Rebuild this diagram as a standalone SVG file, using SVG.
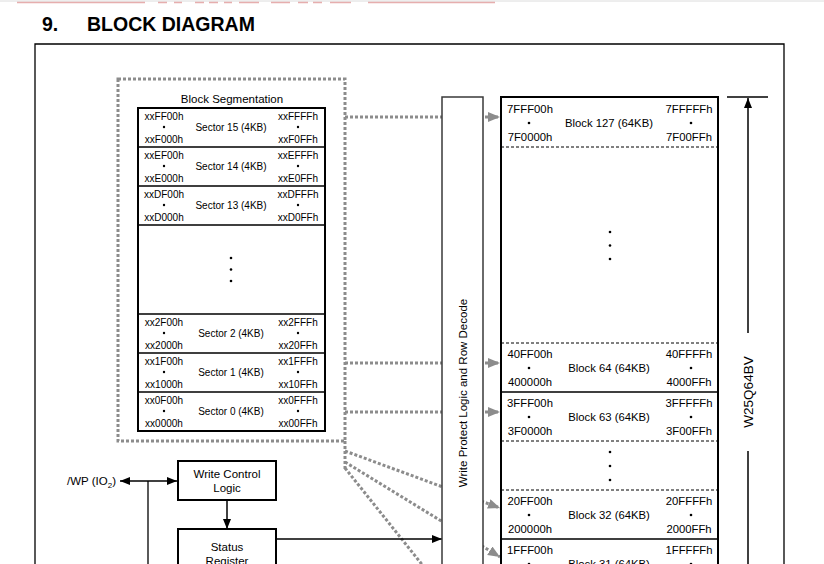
<svg xmlns="http://www.w3.org/2000/svg" width="824" height="564" viewBox="0 0 824 564">
<defs>
<style>
text{font-family:"Liberation Sans",Arial,sans-serif;fill:#000}
.t10{font-size:10px}
.t11{font-size:11.3px}
.t12{font-size:11.5px}
.m{text-anchor:middle}
.dot{stroke:#8c8c8c;stroke-width:3;stroke-dasharray:3 2;fill:none}
.ln{stroke:#000;fill:none}
.dash{stroke:#000;stroke-width:1;stroke-dasharray:3 2;fill:none}
</style>
<marker id="ga" markerUnits="userSpaceOnUse" markerWidth="14" markerHeight="12" refX="12" refY="5" orient="auto">
<path d="M0,0 L12,5 L0,10 Z" fill="#8c8c8c"/>
</marker>
<marker id="ba" markerUnits="userSpaceOnUse" markerWidth="12" markerHeight="10" refX="10" refY="4" orient="auto">
<path d="M0,0 L10,4 L0,8 Z" fill="#000"/>
</marker>
<marker id="bs" markerUnits="userSpaceOnUse" markerWidth="12" markerHeight="10" refX="0" refY="4" orient="auto">
<path d="M10,0 L0,4 L10,8 Z" fill="#000"/>
</marker>
</defs>
<rect width="824" height="564" fill="#fff"/>
<g id="header">
<line x1="0" y1="1" x2="824" y2="1" stroke="#dcdcdc" stroke-width="1"/>
<path d="M17,2.5H145M158,2.5H167M174,2.5H182M195,2.5H204M209,2.5H218M224,2.5H232M239,2.5H259M271,2.5H290M298,2.5H308M313,2.5H322M330,2.5H351M368,2.5H495" stroke="#d77a7a" stroke-width="1.5" opacity="0.6"/>
<text x="42" y="31" style="font-size:19.5px;font-weight:bold">9.</text>
<text x="87" y="31" style="font-size:19.5px;font-weight:bold">BLOCK DIAGRAM</text>
</g>
<g id="frame">
<path d="M35,566V44H784V566" stroke="#000" stroke-width="1.3" fill="none"/>
</g>
<g id="connectors">
<line class="dot" x1="345" y1="441" x2="345" y2="470"/>
<line class="dot" x1="345" y1="117" x2="500" y2="117" marker-end="url(#ga)"/>
<line class="dot" x1="345" y1="363" x2="500" y2="363" marker-end="url(#ga)"/>
<line class="dot" x1="345" y1="412" x2="500" y2="412" marker-end="url(#ga)"/>
<line class="dot" x1="345" y1="451" x2="500" y2="508" marker-end="url(#ga)"/>
<line class="dot" x1="345" y1="462" x2="500" y2="557" marker-end="url(#ga)"/>
<line class="dot" x1="345" y1="468" x2="428" y2="572"/>
<line class="ln" stroke-width="1.3" x1="120" y1="481" x2="177" y2="481" marker-start="url(#bs)" marker-end="url(#ba)"/>
<line class="ln" stroke-width="1.3" x1="148" y1="481" x2="148" y2="566"/>
<line class="ln" stroke-width="1.5" x1="227" y1="500" x2="227" y2="529" marker-end="url(#ba)"/>
<line class="ln" stroke-width="1.5" x1="276" y1="539" x2="442" y2="539" marker-end="url(#ba)"/>
</g>
<g id="block-segmentation">
<rect x="118" y="79" width="227" height="362" class="dot"/>
<text class="t12 m" x="232" y="103">Block Segmentation</text>
<rect x="138" y="108" width="187" height="323" fill="#fff" stroke="#000" stroke-width="2"/>
<path d="M138,147H325M138,186H325M138,225H325M138,314H325M138,353H325M138,392H325" stroke="#000" stroke-width="1.5"/>
<g class="t10">
<text class="m" x="164" y="120">xxFF00h</text><text class="m" x="164" y="142.5">xxF000h</text>
<text class="m" x="298" y="120">xxFFFFh</text><text class="m" x="298" y="142.5">xxF0FFh</text>
<text class="m" x="231" y="130.5">Sector 15 (4KB)</text>
<text class="m" x="164" y="159">xxEF00h</text><text class="m" x="164" y="181.5">xxE000h</text>
<text class="m" x="298" y="159">xxEFFFh</text><text class="m" x="298" y="181.5">xxE0FFh</text>
<text class="m" x="231" y="169.5">Sector 14 (4KB)</text>
<text class="m" x="164" y="198">xxDF00h</text><text class="m" x="164" y="220.5">xxD000h</text>
<text class="m" x="298" y="198">xxDFFFh</text><text class="m" x="298" y="220.5">xxD0FFh</text>
<text class="m" x="231" y="208.5">Sector 13 (4KB)</text>
<text class="m" x="164" y="326">xx2F00h</text><text class="m" x="164" y="348.5">xx2000h</text>
<text class="m" x="298" y="326">xx2FFFh</text><text class="m" x="298" y="348.5">xx20FFh</text>
<text class="m" x="231" y="336.5">Sector 2 (4KB)</text>
<text class="m" x="164" y="365">xx1F00h</text><text class="m" x="164" y="387.5">xx1000h</text>
<text class="m" x="298" y="365">xx1FFFh</text><text class="m" x="298" y="387.5">xx10FFh</text>
<text class="m" x="231" y="375.5">Sector 1 (4KB)</text>
<text class="m" x="164" y="404">xx0F00h</text><text class="m" x="164" y="426.5">xx0000h</text>
<text class="m" x="298" y="404">xx0FFFh</text><text class="m" x="298" y="426.5">xx00FFh</text>
<text class="m" x="231" y="414.5">Sector 0 (4KB)</text>
</g>
<g fill="#000">
<circle cx="164" cy="127" r="1.2"/><circle cx="298" cy="127" r="1.2"/>
<circle cx="164" cy="166" r="1.2"/><circle cx="298" cy="166" r="1.2"/>
<circle cx="164" cy="205" r="1.2"/><circle cx="298" cy="205" r="1.2"/>
<circle cx="164" cy="333" r="1.2"/><circle cx="298" cy="333" r="1.2"/>
<circle cx="164" cy="372" r="1.2"/><circle cx="298" cy="372" r="1.2"/>
<circle cx="164" cy="411" r="1.2"/><circle cx="298" cy="411" r="1.2"/>
<circle cx="231" cy="258" r="1.3"/><circle cx="231" cy="269.5" r="1.3"/><circle cx="231" cy="281" r="1.3"/>
</g>
</g>
<g id="write-protect-logic">
<path d="M442,570V97H483V570" fill="#fff" stroke="#3a3a3a" stroke-width="1.5"/>
<text class="t12 m" transform="translate(467,393) rotate(-90)">Write Protect Logic and Row Decode</text>
</g>
<g id="memory-array">
<path d="M501,570V97H718V570" fill="#fff" stroke="#000" stroke-width="2"/>
<path class="dash" d="M501,147H718M501,343H718M501,441H718M501,490H718"/>
<path d="M501,392H718M501,539H718" stroke="#000" stroke-width="1.5"/>
<g class="t11">
<text class="m" x="530" y="113">7FFF00h</text><text class="m" x="530" y="141">7F0000h</text>
<text class="m" x="689" y="113">7FFFFFh</text><text class="m" x="689" y="141">7F00FFh</text>
<text class="m" x="609" y="127">Block 127 (64KB)</text>
<text class="m" x="530" y="358">40FF00h</text><text class="m" x="530" y="386">400000h</text>
<text class="m" x="689" y="358">40FFFFh</text><text class="m" x="689" y="386">4000FFh</text>
<text class="m" x="609" y="372">Block 64 (64KB)</text>
<text class="m" x="530" y="407">3FFF00h</text><text class="m" x="530" y="435">3F0000h</text>
<text class="m" x="689" y="407">3FFFFFh</text><text class="m" x="689" y="435">3F00FFh</text>
<text class="m" x="609" y="421">Block 63 (64KB)</text>
<text class="m" x="530" y="505">20FF00h</text><text class="m" x="530" y="533">200000h</text>
<text class="m" x="689" y="505">20FFFFh</text><text class="m" x="689" y="533">2000FFh</text>
<text class="m" x="609" y="519">Block 32 (64KB)</text>
<text class="m" x="530" y="554">1FFF00h</text>
<text class="m" x="689" y="554">1FFFFFh</text>
<text class="m" x="609" y="567.5">Block 31 (64KB)</text>
</g>
<g fill="#000">
<circle cx="529" cy="123" r="1.3"/><circle cx="691" cy="123" r="1.3"/>
<circle cx="529" cy="368" r="1.3"/><circle cx="691" cy="368" r="1.3"/>
<circle cx="529" cy="417" r="1.3"/><circle cx="691" cy="417" r="1.3"/>
<circle cx="529" cy="515" r="1.3"/><circle cx="691" cy="515" r="1.3"/>
<circle cx="529" cy="564" r="1.3"/><circle cx="691" cy="564" r="1.3"/>
<circle cx="610" cy="232" r="1.3"/><circle cx="610" cy="245.5" r="1.3"/><circle cx="610" cy="259" r="1.3"/>
<circle cx="610" cy="452" r="1.3"/><circle cx="610" cy="466" r="1.3"/><circle cx="610" cy="480" r="1.3"/>
</g>
</g>
<g id="device-size">
<line x1="727" y1="97" x2="768" y2="97" stroke="#000" stroke-width="1.3"/>
<line x1="748" y1="333" x2="748" y2="98" stroke="#000" stroke-width="1.5" marker-end="url(#ba)"/>
<line x1="748" y1="451" x2="748" y2="566" stroke="#000" stroke-width="1.5"/>
<text class="m" style="font-size:13.5px" transform="translate(753,392) rotate(-90)">W25Q64BV</text>
</g>
<g id="wp-pin">
<text class="t12" x="67" y="485">/WP (IO<tspan dy="3" style="font-size:8px">2</tspan><tspan dy="-3">)</tspan></text>
</g>
<g id="write-control-logic">
<rect x="178" y="461" width="98" height="39" fill="#fff" stroke="#000" stroke-width="2"/>
<text class="t12 m" x="227" y="478">Write Control</text>
<text class="t12 m" x="227" y="492">Logic</text>
</g>
<g id="status-register">
<path d="M178,570V529H276V570" fill="#fff" stroke="#000" stroke-width="2"/>
<text class="t12 m" x="227" y="551">Status</text>
<text class="t12 m" x="227" y="565">Register</text>
</g>
</svg>
